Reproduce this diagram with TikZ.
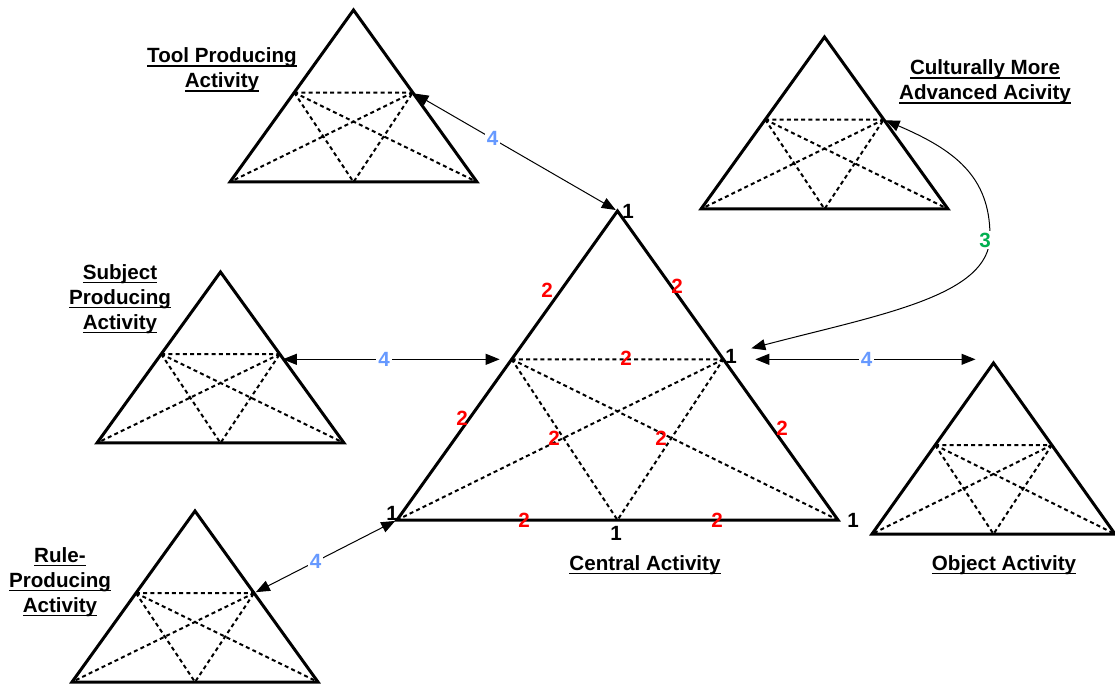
\documentclass[tikz,border=0pt]{standalone}
\usepackage{fontspec}
\setmainfont{Liberation Sans}
\usetikzlibrary{arrows.meta}
\definecolor{linkblue}{RGB}{102,153,255}
\definecolor{linkgreen}{RGB}{0,176,80}
% underlined title line with a heavier bar
\newcommand{\ulbar}[1]{\setbox0=\hbox{#1}\rlap{\vrule height -1.2pt depth 2pt width \wd0}\box0}

\begin{document}
\begin{tikzpicture}[x=0.5pt,y=-0.5pt, font=\fontsize{10.3}{12.5}\selectfont\bfseries,
	tri/.style={line width=1.5pt},
	diag/.style={line width=1pt, dash pattern=on 2pt off 1.6pt},
	link/.style={line width=0.5pt, {Triangle[length=7pt,width=5.5pt]}-{Triangle[length=7pt,width=5.5pt]}},
	title/.style={align=center, inner sep=0pt},
	num/.style={inner sep=1pt}]
	\useasboundingbox (0,0) rectangle (1115,684);
	% corners, inner points and base middle of every activity triangle
	\foreach \n/\x/\y/\w/\h in {tool/230/182/247/172, cult/701/209/247/172, subj/97/443/247/171,
		rule/72/682/246/171, obj/872/534/243/171, cen/397/520/441/309}{
		\path
		(\x,\y) coordinate (\n-l)
		+(\w,0) coordinate (\n-r)
		+(\w/2,0) coordinate (\n-m)
		+(\w/2,-\h) coordinate (\n-a)
		+(0.26*\w,-0.52*\h) coordinate (\n-il)
		+(0.74*\w,-0.52*\h) coordinate (\n-ir)
		;
		\draw[tri] (\n-l)--(\n-a)--(\n-r)--cycle;
		\draw[diag] (\n-il)--(\n-ir) (\n-il)--(\n-r) (\n-ir)--(\n-l) (\n-il)--(\n-m)--(\n-ir);
	}
	
	% titles
	\node[title] (tool-t) at (222,70) {\ulbar{Tool Producing}\\\ulbar{Activity}};
	\node[title] (cult-t) at (985,82) {\ulbar{Culturally More}\\\ulbar{Advanced Acivity}};
	\node[title] (subj-t) at (120,299) {\ulbar{Subject}\\\ulbar{Producing}\\\ulbar{Activity}};
	\node[title] (rule-t) at (60,582) {\ulbar{Rule-}\\\ulbar{Producing}\\\ulbar{Activity}};
	\node[title] (cen-t) at (645,565) {\ulbar{Central Activity}};
	\node[title] (obj-t) at (1004,565) {\ulbar{Object Activity}};
	
	% numbers on the central triangle
	\foreach \x/\y [count=\i] in {547/290, 677/286, 626/358, 462/418, 782/428, 554/438, 661/438, 524/520, 717/520}
	\node[num, red] (two\i) at (\x,\y) {2};
	\foreach \x/\y [count=\i] in {628/211, 731/356, 392/513, 616/533, 853/520}
	\node[num] (one\i) at (\x,\y) {1};
	
	% links between the activities
	\draw[link, shorten <=1pt, shorten >=1pt] (tool-ir) -- node[num, fill=white, text=linkblue, pos=0.39] (four1) {4} (cen-a);
	\draw[link, shorten <=1.5pt, shorten >=6pt] (cen-il -| subj-ir) -- node[num, fill=white, text=linkblue, pos=0.45] (four2) {4} (cen-il);
	\draw[link, shorten <=1pt, shorten >=1pt] (rule-ir) -- node[num, fill=white, text=linkblue, pos=0.43] (four3) {4} (cen-l);
	\draw[link, shorten <=16pt, shorten >=9pt] (cen-ir) -- node[num, fill=white, text=linkblue, pos=0.53] (four4) {4} (cen-ir -| obj-a);
	
	\coordinate (bend) at (990,236);
	\draw[link, shorten >=1pt] ([xshift=14pt,yshift=5.5pt]cen-ir) .. controls +(130,-34) and +(0,60) .. (bend)
	.. controls +(0,-60) and +(70,30) .. (cult-ir);
	\node[num, fill=white, text=linkgreen] (three) at (985,240) {3};
\end{tikzpicture}
\end{document}
